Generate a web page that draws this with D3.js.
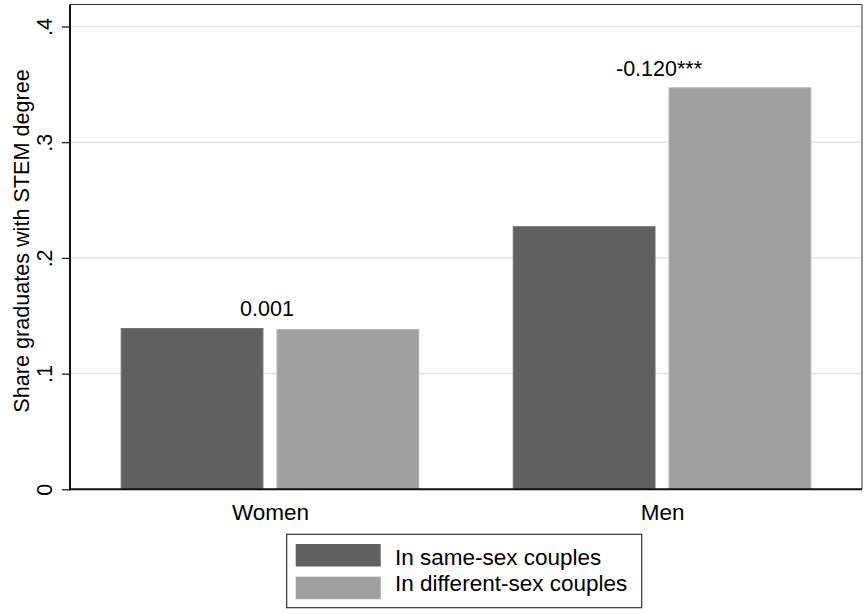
<!DOCTYPE html>
<html>
<head>
<meta charset="utf-8">
<script src="https://cdn.jsdelivr.net/npm/d3@7"></script>
<style>
  html, body { margin: 0; padding: 0; background: #fff; }
  svg { display: block; font-family: "Liberation Sans", Arial, sans-serif; }
</style>
</head>
<body>
<svg id="chart" width="867" height="614"></svg>
<script>
// Share of graduates with a STEM degree, by sex and couple type
const groups = ["Women", "Men"];
const seriesNames = ["In same-sex couples", "In different-sex couples"];
const sameSex = [0.139, 0.227];
const differentSex = [0.138, 0.347];
const gapLabels = ["0.001", "-0.120***"];
const yTicks = [0, 0.1, 0.2, 0.3, 0.4];
const yTickLabels = ["0", ".1", ".2", ".3", ".4"];

const colors = ["#606060", "#a0a0a0"];
const strokes = ["#747474", "#b4b4b4"];

const svg = d3.select("#chart");
const plotLeft = 70, plotRight = 862, plotTop = 4.5, plotBottom = 489.3;

const y = d3.scaleLinear().domain([0, 0.4]).range([plotBottom, 26.5]);
const x = d3.scalePoint().domain(groups).range([plotLeft, plotRight]).padding(0.51);
const xs = d3.scaleBand().domain(seriesNames).range([-148.8, 148.8]).paddingInner(0.09);

// gridlines
svg.append("g")
  .selectAll("line")
  .data(yTicks.slice(1))
  .join("line")
  .attr("x1", plotLeft).attr("x2", plotRight)
  .attr("y1", d => y(d)).attr("y2", d => y(d))
  .attr("stroke", "#e3e3e3").attr("stroke-width", 1.5);

// bars
const rows = groups.map((g, i) => ({ group: g, values: [sameSex[i], differentSex[i]], label: gapLabels[i] }));
const gBars = svg.append("g");
rows.forEach(r => {
  r.values.forEach((v, k) => {
    gBars.append("rect")
      .attr("x", x(r.group) + xs(seriesNames[k]))
      .attr("width", xs.bandwidth())
      .attr("y", y(v))
      .attr("height", y(0) - y(v))
      .attr("fill", colors[k])
      .attr("stroke", strokes[k])
      .attr("stroke-width", 1);
  });
  svg.append("text")
    .attr("x", x(r.group) - 3)
    .attr("y", y(d3.max(r.values)) - 12)
    .attr("text-anchor", "middle")
    .attr("font-size", 21.5)
    .attr("fill", "#000")
    .text(r.label);
});

// plot region frame
svg.append("line").attr("x1", plotLeft).attr("x2", plotRight).attr("y1", plotTop).attr("y2", plotTop)
  .attr("stroke", "#333").attr("stroke-width", 1.2);
svg.append("line").attr("x1", plotRight).attr("x2", plotRight).attr("y1", plotTop).attr("y2", plotBottom)
  .attr("stroke", "#555").attr("stroke-width", 1.2);

// y axis
const yAxis = d3.axisLeft(y).tickValues(yTicks).tickSize(8)
  .tickFormat((d, i) => yTickLabels[i]);
const ga = svg.append("g").attr("transform", `translate(${plotLeft},0)`).call(yAxis);
ga.select(".domain").attr("stroke", "#111").attr("stroke-width", 2).attr("d", `M0,${plotTop}V${plotBottom + 1}`);
ga.selectAll(".tick line").attr("stroke", "#111").attr("stroke-width", 1.2);
ga.selectAll(".tick text")
  .attr("font-size", 21.5).attr("fill", "#000")
  .attr("font-family", "Liberation Sans, Arial, sans-serif")
  .attr("text-anchor", "middle")
  .attr("dy", null)
  .attr("transform", "rotate(-90)")
  .attr("x", 0)
  .attr("y", -18);

// x axis
const xAxis = d3.axisBottom(x).tickSize(0).tickPadding(12);
const gx = svg.append("g").attr("transform", `translate(0,${plotBottom})`).call(xAxis);
gx.select(".domain").attr("stroke", "#111").attr("stroke-width", 2).attr("d", `M${plotLeft - 1},0H${plotRight}`);
gx.selectAll(".tick text")
  .attr("font-size", 22.5).attr("fill", "#000")
  .attr("font-family", "Liberation Sans, Arial, sans-serif")
  .attr("dy", null).attr("y", 30.5);

// y axis title
svg.append("text")
  .attr("transform", `translate(29,241) rotate(-90)`)
  .attr("text-anchor", "middle")
  .attr("font-size", 21.6)
  .attr("fill", "#000")
  .text("Share graduates with STEM degree");

// legend
const lg = svg.append("g");
lg.append("rect").attr("x", 286.7).attr("y", 534.3).attr("width", 355).attr("height", 73.4)
  .attr("fill", "#fff").attr("stroke", "#333").attr("stroke-width", 1.2);
seriesNames.forEach((s, k) => {
  lg.append("rect")
    .attr("x", 295.7).attr("y", 544 + k * 32.7)
    .attr("width", 85).attr("height", 22.5)
    .attr("fill", colors[k]);
  lg.append("text")
    .attr("x", 395).attr("y", 565 + k * 26)
    .attr("font-size", 22.5).attr("fill", "#000")
    .text(s);
});
</script>
</body>
</html>
